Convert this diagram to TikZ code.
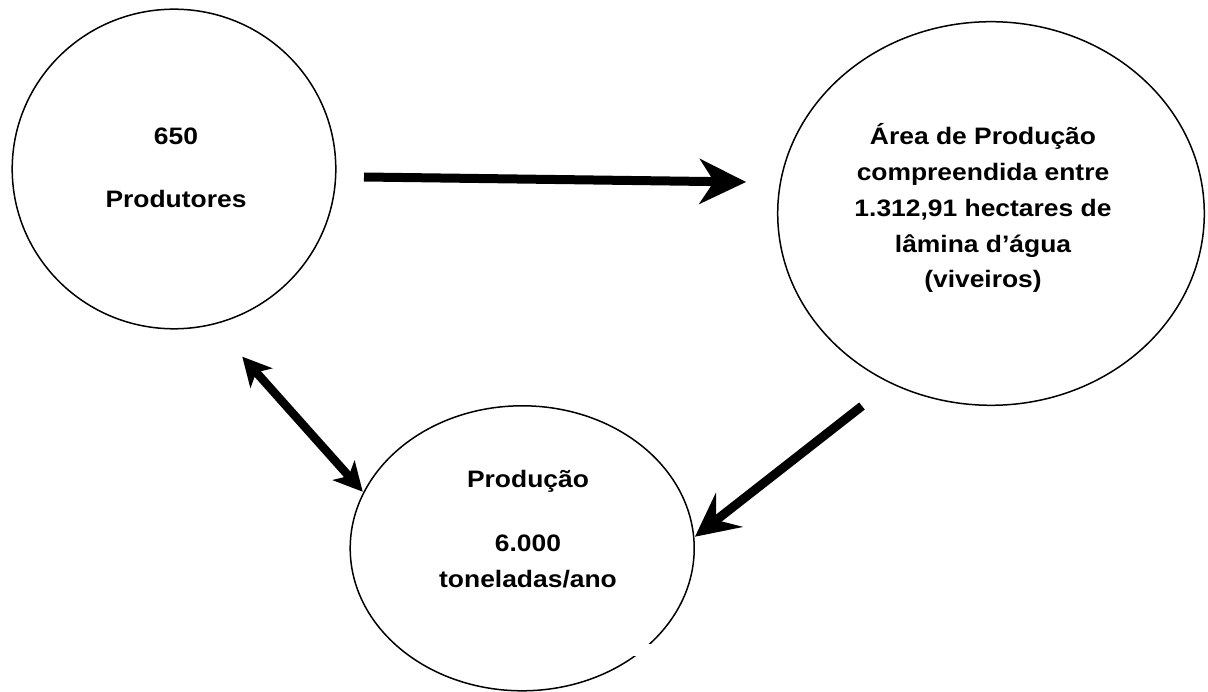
\documentclass[tikz,border=0pt]{standalone}
\usepackage{fontspec}
\newfontfamily\lab[FakeStretch=1.11]{Liberation Sans}
\usetikzlibrary{arrows.meta,shapes.geometric}
\begin{document}
\begin{tikzpicture}[x=1pt,y=-1pt,
  oval/.style={ellipse, draw, line width=1.5pt, inner sep=0pt},
  lbl/.style={font=\lab\bfseries\fontsize{23.8pt}{35.8pt}\selectfont, align=center, inner sep=0pt},
  bigarrow/.style={line width=9pt, -{Stealth[length=47pt,width=46pt,inset=15pt,line width=0pt]}},
  midarrow/.style={line width=9pt, -{Stealth[length=44pt,width=44pt,inset=17pt,line width=0pt]}},
  dblarrow/.style={line width=8.5pt, {Stealth[length=29pt,width=30pt,inset=8pt,line width=0pt]}-{Stealth[length=29pt,width=30pt,inset=8pt,line width=0pt]}}]
\useasboundingbox (0,0) rectangle (1208,692);
% ellipses
\node[oval, minimum width=323.6pt, minimum height=319.6pt] (e1) at (174,169) {};
\node[oval, minimum width=426.6pt, minimum height=383.6pt] (e2) at (991,213.5) {};
\node[oval, minimum width=344pt, minimum height=285pt] (e3) at (522.2,548.3) {};
\fill[white] (630,644) rectangle (660,656);
% labels
\node[lbl] (t1) at (176,167.8) {650\\[26.5pt]Produtores};
\node[lbl] (t2) at (983,208.3) {Área de Produção\\compreendida entre\\1.312,91 hectares de\\lâmina d’água\\(viveiros)};
\node[lbl] (t3) at (528,529) {Produção\\[28pt]6.000\\toneladas/ano};
% connector end points
\coordinate (a1s) at (364,177);
\coordinate (a1e) at (746,182);
\coordinate (a2s) at (242.3,356.7);
\coordinate (a2e) at (362.7,491.7);
\coordinate (a3s) at (862,406);
\coordinate (a3e) at (695,536.7);
% connectors
\draw[bigarrow] (a1s) -- (a1e);
\draw[dblarrow] (a2s) -- (a2e);
\draw[midarrow] (a3s) -- (a3e);
\end{tikzpicture}
\end{document}
